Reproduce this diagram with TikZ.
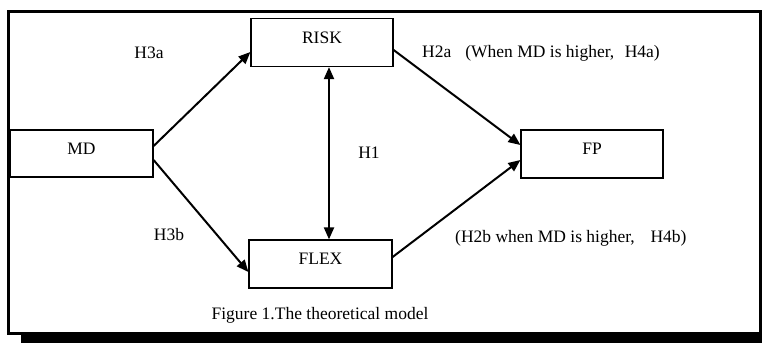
\documentclass[tikz,border=0pt]{standalone}
\usepackage{fontspec}
\setmainfont{Liberation Serif}
\usetikzlibrary{arrows.meta}
\tikzset{
  varbox/.style={draw, line width=1.2pt, minimum width=142pt, minimum height=48pt, inner sep=0pt, text height=12pt, text depth=11pt},
  link/.style={line width=2pt, -{Triangle[length=12pt,width=10pt]}},
  biLink/.style={line width=2pt, {Triangle[length=12pt,width=10pt]}-{Triangle[length=12pt,width=10pt]}},
  lbl/.style={inner sep=0pt}
}
\begin{document}
\begin{tikzpicture}[x=1pt, y=-1pt, font=\fontsize{17.5}{20}\selectfont]
\useasboundingbox (0,0) rectangle (762,343);
% frame
\draw[line width=3pt] (8.5,11.5) rectangle (760.5,333.5);
\fill (21,334) rectangle (762,342.5);
% boxes
\node[varbox] (risk) at (322,42.5) {RISK};
\node[varbox, minimum width=143pt, minimum height=47pt] (md) at (81.5,153.5) {MD};
\node[varbox] (fp) at (592,154) {FP};
\node[varbox, minimum width=143pt] (flex) at (320.5,264) {FLEX};
% connectors
\draw[link] ([yshift=7.5pt]md.east) -- ([yshift=-9.5pt]risk.west);
\draw[link] ([yshift=-6.5pt]md.east) -- ([yshift=-8pt]flex.west);
\draw[link] ([yshift=-7.5pt]risk.east) -- ([yshift=9pt]fp.west);
\draw[link] ([yshift=7pt]flex.east) -- ([yshift=-6pt]fp.west);
\draw[biLink] ([xshift=7pt]risk.south) -- ([xshift=7pt]risk.south |- flex.north);
% labels
\node[lbl] (h3a) at (149,53) {H3a};
\node[lbl, anchor=west] (h2a) at (422,53) {H2a\hspace{0.8em}(When MD is higher,\hspace{0.6em}H4a)};
\node[lbl] (h1) at (369,153) {H1};
\node[lbl] (h3b) at (169,235) {H3b};
\node[lbl, anchor=west] (h2b) at (455,238) {(H2b when MD is higher,\hspace{0.9em}H4b)};
\node[lbl] (cap) at (320,315) {Figure 1.The theoretical model};
\end{tikzpicture}
\end{document}
